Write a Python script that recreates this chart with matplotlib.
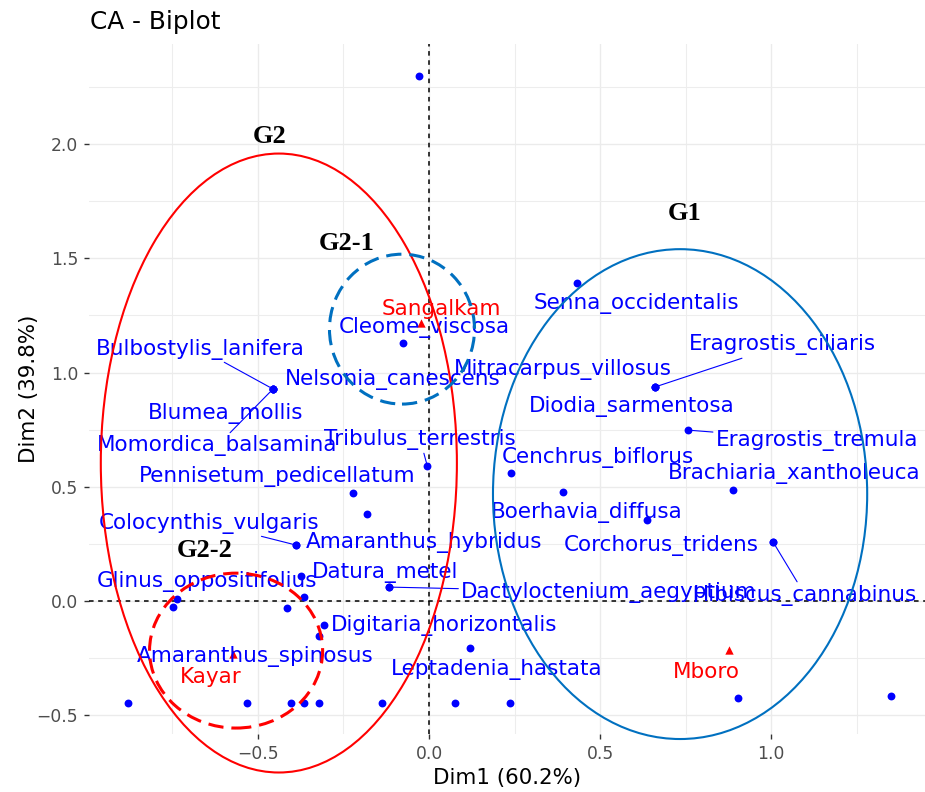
import matplotlib
matplotlib.use("Agg")
import matplotlib.pyplot as plt
from matplotlib.patches import Ellipse
from matplotlib.ticker import MultipleLocator

# column (species) coordinates that carry a label
species = ["Senna_occidentalis", "Cleome_viscosa", "Bulbostylis_lanifera",
           "Nelsonia_canescens", "Blumea_mollis", "Momordica_balsamina",
           "Mitracarpus_villosus", "Eragrostis_ciliaris", "Diodia_sarmentosa",
           "Eragrostis_tremula", "Tribulus_terrestris", "Cenchrus_biflorus",
           "Pennisetum_pedicellatum", "Brachiaria_xantholeuca", "Boerhavia_diffusa",
           "Corchorus_tridens", "Hibiscus_cannabinus", "Colocynthis_vulgaris",
           "Amaranthus_hybridus", "Datura_metel", "Dactyloctenium_aegyptium",
           "Glinus_oppositifolius", "Digitaria_horizontalis", "Amaranthus_spinosus",
           "Leptadenia_hastata"]
sp_dim1 = [0.433, -0.076, -0.456, -0.456, -0.456, -0.456, 0.661, 0.661, 0.661,
           0.757, -0.005, 0.240, -0.222, 0.889, 0.393, 1.006, 1.006, -0.389,
           -0.389, -0.117, -0.117, -0.737, -0.307, -0.322, 0.120]
sp_dim2 = [1.392, 1.129, 0.928, 0.928, 0.928, 0.928, 0.937, 0.937, 0.937,
           0.748, 0.591, 0.560, 0.473, 0.486, 0.477, 0.258, 0.258, 0.245,
           0.245, 0.061, 0.061, 0.009, -0.105, -0.153, -0.206]

# species points left unlabeled (overlaps)
other_dim1 = [-0.029, -0.181, 0.637, -0.749, -0.374, -0.365, -0.415,
              -0.880, -0.532, -0.404, -0.365, -0.322, -0.137, 0.076, 0.237,
              0.904, 1.351]
other_dim2 = [2.298, 0.381, 0.354, -0.026, 0.109, 0.018, -0.031,
              -0.446, -0.446, -0.446, -0.446, -0.446, -0.446, -0.446, -0.446,
              -0.425, -0.416]

# row (site) coordinates
sites = ["Sangalkam", "Kayar", "Mboro"]
site_dim1 = [-0.022, -0.573, 0.877]
site_dim2 = [1.217, -0.232, -0.214]

# label placement (pixel offsets from the point, draw segment?)
label_pos = {
    "Senna_occidentalis": (59, -21, False),
    "Cleome_viscosa": (21, 16, False),
    "Bulbostylis_lanifera": (-73, 40, True),
    "Nelsonia_canescens": (120, 9, False),
    "Blumea_mollis": (-47, -24, False),
    "Momordica_balsamina": (-56, -57, True),
    "Mitracarpus_villosus": (-92, 17, False),
    "Eragrostis_ciliaris": (127, 42, True),
    "Diodia_sarmentosa": (-23, -20, False),
    "Eragrostis_tremula": (129, -10, True),
    "Tribulus_terrestris": (-7, 26, True),
    "Cenchrus_biflorus": (87, 16, False),
    "Pennisetum_pedicellatum": (-76, 16, False),
    "Brachiaria_xantholeuca": (61, 16, False),
    "Boerhavia_diffusa": (23, -20, False),
    "Corchorus_tridens": (-112, -3, False),
    "Hibiscus_cannabinus": (32, -53, True),
    "Colocynthis_vulgaris": (-87, 22, True),
    "Amaranthus_hybridus": (128, 3, False),
    "Datura_metel": (-4, 15, False),
    "Dactyloctenium_aegyptium": (220, -5, True),
    "Glinus_oppositifolius": (30, 17, False),
    "Digitaria_horizontalis": (120, 0, False),
    "Amaranthus_spinosus": (-64, -21, False),
    "Leptadenia_hastata": (27, -21, False),
}
site_pos = {"Sangalkam": (20, 14), "Kayar": (-22, -23), "Mboro": (-23, -22)}

# group ellipses: name, centre, width, height, colour, style, text position
groups = [
    ("G2", (-0.439, 0.604), 1.041, 2.709, "#FF0000", "-", (-0.465, 2.035)),
    ("G2-1", (-0.079, 1.190), 0.424, 0.656, "#0070C0", (0, (5, 2.6)), (-0.241, 1.567)),
    ("G1", (0.734, 0.468), 1.094, 2.144, "#0070C0", "-", (0.746, 1.694)),
    ("G2-2", (-0.564, -0.217), 0.506, 0.678, "#FF0000", (0, (5, 2.6)), (-0.655, 0.223)),
]

fig = plt.figure(figsize=(9.25, 7.92), dpi=100)
ax = fig.add_axes([89 / 925, 58 / 792, 836 / 925, 690 / 792])

ax.set_xlim(-0.994, 1.450)
ax.set_ylim(-0.582, 2.438)
ax.xaxis.set_major_locator(MultipleLocator(0.5))
ax.yaxis.set_major_locator(MultipleLocator(0.5))
ax.xaxis.set_minor_locator(MultipleLocator(0.25))
ax.yaxis.set_minor_locator(MultipleLocator(0.25))
ax.grid(which="major", color="#EBEBEB", lw=1.0)
ax.grid(which="minor", color="#EDEDED", lw=0.8)
ax.set_axisbelow(True)
for s in ax.spines.values():
    s.set_visible(False)
ax.tick_params(which="major", length=3.8, width=1.0, color="#333333",
               labelcolor="#4D4D4D", labelsize=12.3, pad=4)
ax.tick_params(which="minor", length=0)

ax.axhline(0, color="black", lw=1.1, ls=(0, (3, 3)), zorder=1)
ax.axvline(0, color="black", lw=1.1, ls=(0, (3, 3)), zorder=1)

ax.scatter(sp_dim1, sp_dim2, s=32, color="#0000FF", zorder=3, lw=0)
ax.scatter(other_dim1, other_dim2, s=32, color="#0000FF", zorder=3, lw=0)
ax.scatter(site_dim1, site_dim2, s=36, marker="^", color="#FF0000", zorder=3, lw=0)

for name, x, y in zip(species, sp_dim1, sp_dim2):
    dx, dy, seg = label_pos[name]
    arrow = None
    if seg:
        arrow = dict(arrowstyle="-", color="#0000FF", lw=0.8, shrinkA=0, shrinkB=2)
    ax.annotate(name, (x, y), xytext=(dx, dy), textcoords="offset pixels",
                ha="center", va="center", color="#0000FF", fontsize=15.5,
                arrowprops=arrow, zorder=4)

for name, x, y in zip(sites, site_dim1, site_dim2):
    dx, dy = site_pos[name]
    ax.annotate(name, (x, y), xytext=(dx, dy), textcoords="offset pixels",
                ha="center", va="center", color="#FF0000", fontsize=15.5, zorder=4)

for name, c, w, h, col, ls, tpos in groups:
    lw = 1.5 if ls == "-" else 2.2
    ax.add_patch(Ellipse(c, w, h, fill=False, edgecolor=col, lw=lw, ls=ls,
                         clip_on=False, zorder=5))
    ax.text(tpos[0], tpos[1], name, ha="center", va="center", fontsize=19,
            family="Liberation Serif", weight="bold", color="black", zorder=6)

ax.set_xlabel("Dim1 (60.2%)", fontsize=15.4, labelpad=4)
ax.set_ylabel("Dim2 (39.8%)", fontsize=15.4, labelpad=-2)
fig.text(90 / 925, 1 - 22 / 792, "CA - Biplot", fontsize=17.8, ha="left", va="center")

fig.savefig("out.png", dpi=100)
